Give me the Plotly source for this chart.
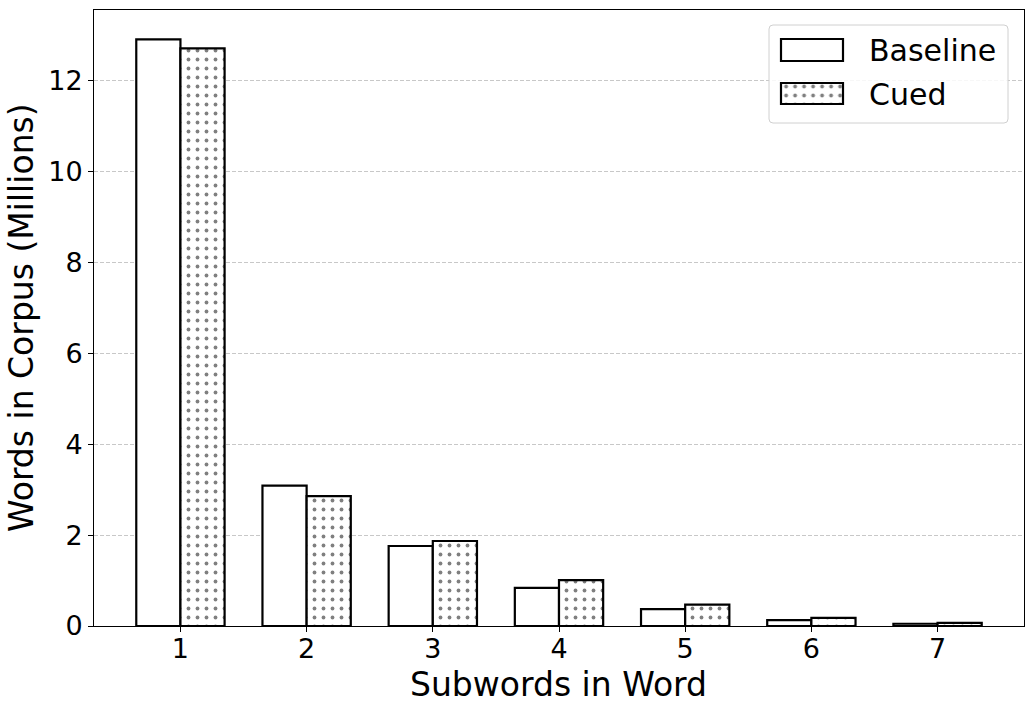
import plotly.graph_objects as go

# ---- data ----
categories = [1, 2, 3, 4, 5, 6, 7]
baseline = [12.91, 3.09, 1.76, 0.84, 0.37, 0.13, 0.05]
cued = [12.71, 2.86, 1.87, 1.01, 0.47, 0.18, 0.07]
series_names = ["Baseline", "Cued"]
y_ticks = [0, 2, 4, 6, 8, 10, 12]
x_title = "Subwords in Word"
y_title = "Words in Corpus (Millions)"

FONT = "DejaVu Sans"
dot_pattern = dict(shape=".", fillmode="overlay", fgcolor="black", bgcolor="white",
                   size=9, solidity=0.14)
LW = 2.2

fig = go.Figure()
fig.add_trace(go.Bar(x=categories, y=baseline, name=series_names[0],
                     marker=dict(color="white", line=dict(color="black", width=LW)),
                     showlegend=False))
fig.add_trace(go.Bar(x=categories, y=cued, name=series_names[1],
                     marker=dict(color="white", line=dict(color="black", width=LW),
                                 pattern=dot_pattern),
                     showlegend=False))

# ---- custom legend drawn on a hidden pixel-unit axis pair ----
L, R, T, B = 94, 9, 10, 86
W, H = 1033, 712
pw, ph = W - L - R, H - T - B
dx = [0.72, 0.99]
dy = [0.80, 1.0]
x2r = [L + dx[0] * pw, L + dx[1] * pw]
y2r = [T + ph - dy[0] * ph, T + ph - dy[1] * ph]

fig.add_trace(go.Bar(y=[50], x=[62], base=[781], width=[22], orientation="h",
                     xaxis="x2", yaxis="y2", showlegend=False, hoverinfo="skip",
                     marker=dict(color="white", line=dict(color="black", width=LW))))
fig.add_trace(go.Bar(y=[93.5], x=[62], base=[781], width=[21], orientation="h",
                     xaxis="x2", yaxis="y2", showlegend=False, hoverinfo="skip",
                     marker=dict(color="white", line=dict(color="black", width=LW),
                                 pattern=dot_pattern)))

x0, x1, y0, y1, r = 769, 1008, 25, 123, 4
box_path = (f"M{x0+r},{y0} L{x1-r},{y0} Q{x1},{y0} {x1},{y0+r} L{x1},{y1-r} "
            f"Q{x1},{y1} {x1-r},{y1} L{x0+r},{y1} Q{x0},{y1} {x0},{y1-r} "
            f"L{x0},{y0+r} Q{x0},{y0} {x0+r},{y0} Z")
fig.add_shape(type="path", path=box_path, xref="x2", yref="y2", layer="below",
              fillcolor="rgba(255,255,255,0.85)", line=dict(color="#d0d0d0", width=1))

for name, yy in zip(series_names, [50, 94]):
    fig.add_annotation(x=867, y=yy, xref="x2", yref="y2", text=name, showarrow=False,
                       xanchor="left", yanchor="middle",
                       font=dict(family=FONT, size=30, color="black"))

# axis titles
fig.add_annotation(x=(558 - L) / pw, y=(T + ph - 684) / ph, xref="paper", yref="paper",
                   text=x_title, showarrow=False, xanchor="center", yanchor="middle",
                   font=dict(family=FONT, size=33, color="black"))
fig.add_annotation(x=(21 - L) / pw, y=(T + ph - 318) / ph, xref="paper", yref="paper",
                   text=y_title, showarrow=False, textangle=-90,
                   xanchor="center", yanchor="middle",
                   font=dict(family=FONT, size=33, color="black"))

fig.update_layout(
    width=W, height=H,
    margin=dict(l=L, r=R, t=T, b=B),
    paper_bgcolor="white", plot_bgcolor="rgba(0,0,0,0)",
    barmode="group", bargap=0.3, bargroupgap=0,
    font=dict(family=FONT, color="black"),
    showlegend=False,
    xaxis=dict(range=[0.315, 7.685], tickmode="array", tickvals=categories,
               ticktext=[str(c) for c in categories],
               ticks="outside", ticklen=5, tickwidth=1, tickcolor="black",
               ticklabelstandoff=-6,
               showline=True, linecolor="black", linewidth=1, mirror=True,
               showgrid=False, zeroline=False,
               tickfont=dict(family=FONT, size=27, color="black")),
    yaxis=dict(range=[0, max(baseline + cued) * 1.05], tickmode="array", tickvals=y_ticks,
               ticks="outside", ticklen=5, tickwidth=1, tickcolor="black",
               showline=True, linecolor="black", linewidth=1, mirror=True,
               showgrid=True, gridcolor="#c8c8c8", gridwidth=1, griddash="4px,2px",
               zeroline=False,
               tickfont=dict(family=FONT, size=27, color="black")),
    xaxis2=dict(domain=dx, range=x2r, visible=False, fixedrange=True),
    yaxis2=dict(domain=dy, range=y2r, visible=False, fixedrange=True),
)

fig.write_html("out.html")
